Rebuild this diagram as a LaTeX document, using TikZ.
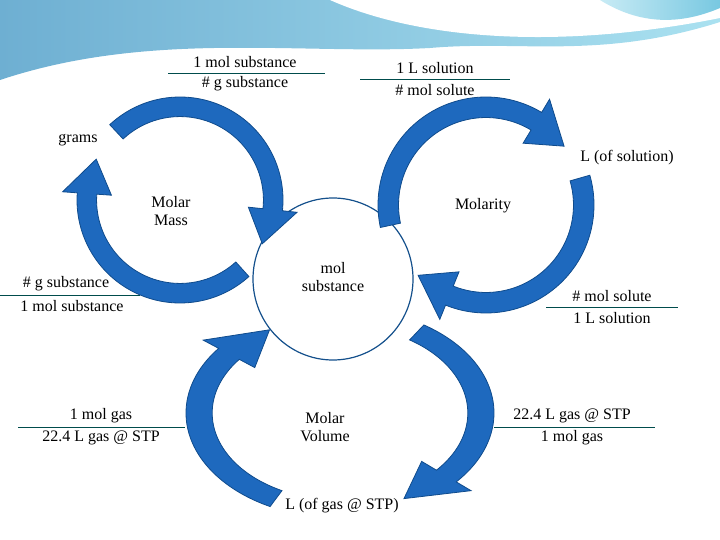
\documentclass[tikz,border=0pt]{standalone}
\usepackage{fontspec}
\setmainfont{Liberation Serif}
\usetikzlibrary{shapes.geometric}
\begin{document}
\begin{tikzpicture}[x=1pt,y=-1pt,
  lbl/.style={font=\fontsize{16}{18}\selectfont,inner sep=1pt,align=center},
  frac/.style={draw=teal!60!black,line width=0.8pt},
  arrowfill/.style={fill={rgb,255:red,30;green,105;blue,190},draw={rgb,255:red,15;green,75;blue,140},line width=0.8pt}]
\useasboundingbox (0,0) rectangle (720,540);
% banner
\shade[left color={rgb,255:red,110;green,175;blue,210},right color={rgb,255:red,170;green,225;blue,240}]
  (0,0) -- (720,0) -- (720,22) .. controls (600,60) and (520,40) .. (430,48)
  .. controls (300,55) and (150,30) .. (0,80) -- cycle;
\fill[white] (330,0) .. controls (420,40) and (560,50) .. (720,18) -- (720,0) -- cycle;
\shade[left color={rgb,255:red,200;green,235;blue,245},right color={rgb,255:red,120;green,200;blue,225}]
  (600,0) -- (720,0) -- (720,8) .. controls (680,25) and (640,25) .. (600,0) -- cycle;
% macro for curved arrows
\newcommand\carrow[7]{%
  \pgfmathsetmacro\hb{#6-22*(#6-#5)/abs(#6-#5)}%
  \pgfmathsetmacro\ri{1-#7}%
  \pgfmathsetmacro\rwo{1+0.75*#7}%
  \pgfmathsetmacro\rwi{1-1.75*#7}%
  \pgfmathsetmacro\rt{1-0.5*#7}%
  \fill[arrowfill] plot[domain=#5:\hb,samples=40,smooth] ({#1+#3*cos(\x)},{#2+#4*sin(\x)})
   -- ({#1+#3*\rwo*cos(\hb)},{#2+#4*\rwo*sin(\hb)})
   -- ({#1+#3*\rt*cos(#6)},{#2+#4*\rt*sin(#6)})
   -- ({#1+#3*\rwi*cos(\hb)},{#2+#4*\rwi*sin(\hb)})
   -- plot[domain=\hb:#5,samples=40,smooth] ({#1+#3*\ri*cos(\x)},{#2+#4*\ri*sin(\x)}) -- cycle;}
% center
\node[draw={rgb,255:red,20;green,80;blue,140},line width=1.2pt,fill=white,ellipse,minimum width=160pt,minimum height=162pt,inner sep=0pt] (mol) at (333,279) {};
\carrow{180}{200}{103}{103}{-133}{28}{0.19}
\carrow{180}{200}{103}{103}{48}{206}{0.19}
\carrow{486}{205}{108}{108}{168}{323}{0.19}
\carrow{486}{205}{108}{108}{-16}{134}{0.19}
\carrow{340}{413}{154}{105}{117}{240}{0.17}
\carrow{340}{413}{154}{105}{-57}{63}{0.17}
% texts
\node[lbl] (molsub) at (333,277) {mol\\substance};
\node[lbl] (mm) at (171,211) {Molar\\Mass};
\node[lbl] (mly) at (483,206) {Molarity};
\node[lbl] (mv) at (325,427) {Molar\\Volume};
\node[lbl] (grams) at (78,140) {grams};
\node[lbl] (lsol) at (627,158) {L (of solution)};
\node[lbl] (lgas) at (342,506) {L (of gas @ STP)};
\node[lbl] (f1a) at (245,62) {1 mol substance};
\node[lbl] (f1b) at (245,84) {\# g substance};
\draw[frac] (168,73) -- (325,73);
\node[lbl] (f2a) at (435,68) {1 L solution};
\node[lbl] (f2b) at (435,90) {\# mol solute};
\draw[frac] (360,79) -- (510,79);
\node[lbl] (f3a) at (66,284) {\# g substance};
\node[lbl] (f3b) at (72,306) {1 mol substance};
\draw[frac] (0,295) -- (140,295);
\node[lbl] (f4a) at (612,296) {\# mol solute};
\node[lbl] (f4b) at (612,318) {1 L solution};
\draw[frac] (546,307) -- (678,307);
\node[lbl] (f5a) at (101,416) {1 mol gas};
\node[lbl] (f5b) at (101,438) {22.4 L gas @ STP};
\draw[frac] (18,427) -- (185,427);
\node[lbl] (f6a) at (572,416) {22.4 L gas @ STP};
\node[lbl] (f6b) at (572,438) {1 mol gas};
\draw[frac] (494,427) -- (655,427);
\end{tikzpicture}
\end{document}
